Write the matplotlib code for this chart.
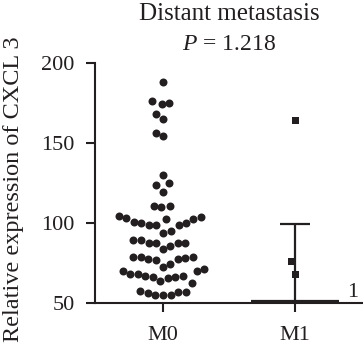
import numpy as np
import matplotlib
matplotlib.use("Agg")
import matplotlib.pyplot as plt

plt.rcParams['font.family'] = ['Liberation Serif', 'DejaVu Serif']
plt.rcParams['mathtext.fontset'] = 'custom'
plt.rcParams['mathtext.it'] = 'Liberation Serif:italic'
plt.rcParams['mathtext.rm'] = 'Liberation Serif'

categories = ["M0", "M1"]
m0_values = [188.5, 176.2, 175.4, 174.4, 168.3, 165.0, 156.6, 154.6,
             130.2, 125.0, 123.8, 119.6, 110.8, 110.0, 110.8, 104.8,
             103.7, 102.9, 101.0, 100.0, 98.7, 95.4, 98.7, 99.0, 100.0, 102.5, 103.6,
             93.8,
             89.4, 87.9, 87.9, 89.4, 86.0, 87.9, 87.9, 83.8,
             78.8, 78.8, 77.9, 76.9, 77.9, 78.3, 78.8,
             74.4, 72.9, 71.6, 70.0, 70.0, 68.5, 68.5, 67.1, 67.1, 66.3, 66.3, 65.6,
             63.8, 62.9,
             57.9, 57.3, 55.2, 55.0, 55.0, 56.6, 57.3]
m1_values = [164.4, 76.6, 68.1, 50.0, 50.0, 50.0, 50.0]
m1_center = 51.4
m1_upper = 99.6
yticks = [50, 100, 150, 200]
title = "Distant metastasis"
ptext = r"$P$ = 1.218"
ylabel = "Relative expression of CXCL 3"
count_label = "1"

INK = "#231f20"
W, H = 363, 351
fig = plt.figure(figsize=(W / 100, H / 100), dpi=100)
ax_left, ax_right, ax_top, ax_bot = 95, 363, 63.3, 303.3
ax = fig.add_axes([ax_left / W, (H - ax_bot) / H, (ax_right - ax_left) / W, (ax_bot - ax_top) / H])
ax.set_xlim(-0.515, 1.515)
ax.set_ylim(50, 200)

px_per_x = (ax_right - ax_left) / 2.03
px_per_y = (ax_bot - ax_top) / 150.0


def swarm(values, diam_px, k):
    """Beeswarm offsets (in x data units); k<1 squeezes vertical distance."""
    vals = np.asarray(values, float)
    order = np.argsort(vals, kind="stable")
    placed = []
    xs = np.zeros(len(vals))
    for i in order:
        y = vals[i] * px_per_y * k
        cands = [0.0]
        for (px, py) in placed:
            dy = y - py
            if abs(dy) < diam_px:
                dx = np.sqrt(diam_px ** 2 - dy ** 2)
                cands += [px - dx, px + dx]
        cands = sorted(cands, key=lambda c: (abs(c), c))
        for c in cands:
            if all((c - px) ** 2 + (y - py) ** 2 >= diam_px ** 2 - 1e-6 for (px, py) in placed):
                xs[i] = c
                placed.append((c, y))
                break
    return xs / px_per_x

dot_d = 8.0
x0 = 0 + swarm(m0_values, 7.6, 0.5)
ax.scatter(x0, m0_values, s=(dot_d * 0.72) ** 2, color=INK, marker="o",
           linewidths=0, zorder=3, clip_on=False)

sq_d = 7.0
x1 = 1 + swarm(m1_values, 7.4, 0.45)
ax.scatter(x1, m1_values, s=(sq_d * 0.72) ** 2, color=INK, marker="s",
           linewidths=0, zorder=3, clip_on=True)

# mean line and error bar for M1
ax.hlines(m1_center, 1 - 0.335, 1 + 0.335, color=INK, lw=1.6, zorder=4)
ax.vlines(1, m1_center, m1_upper, color=INK, lw=1.6, zorder=4)
ax.hlines(m1_upper, 1 - 0.11, 1 + 0.11, color=INK, lw=1.6, zorder=4)

ax.text(1.44, 57, count_label, ha="center", va="center", fontsize=16, color=INK)

for s in ["top", "right"]:
    ax.spines[s].set_visible(False)
for s in ["left", "bottom"]:
    ax.spines[s].set_linewidth(1.5)
    ax.spines[s].set_color(INK)
    ax.spines[s].set_zorder(5)

ax.set_yticks(yticks)
ax.set_yticklabels([str(t) for t in yticks])
ax.set_xticks([0, 1])
ax.set_xticklabels(categories)
ax.tick_params(axis="both", direction="out", length=6.5, width=1.5, color=INK,
               labelsize=16, labelcolor=INK)
ax.tick_params(axis="y", pad=8)
ax.tick_params(axis="x", pad=10)

ax.set_ylabel(ylabel, fontsize=17.5, color=INK)
ax.yaxis.set_label_coords(-(ax_left - 14) / (ax_right - ax_left), 0.5 - 5.5 / (ax_bot - ax_top))
ax.yaxis.label.set_va("center")
fig.text((ax_left + ax_right) / 2 / W, 1 - 14 / H, title, ha="center", va="center",
         fontsize=18, color=INK)
fig.text((ax_left + ax_right) / 2 / W, 1 - 45 / H, ptext, ha="center", va="center",
         fontsize=17, color=INK)

fig.savefig("out.png", dpi=100)
